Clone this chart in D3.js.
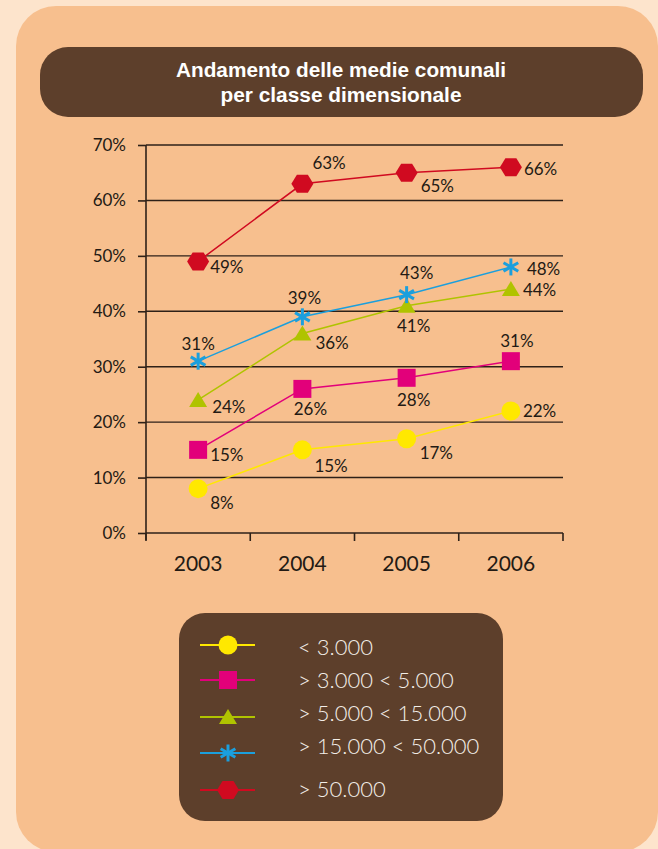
<!DOCTYPE html>
<html>
<head>
<meta charset="utf-8">
<script src="https://cdn.jsdelivr.net/npm/d3@7/dist/d3.min.js"></script>
<style>
  html, body { margin: 0; padding: 0; background: #fde4cc; }
  svg { display: block; }
</style>
</head>
<body>
<svg id="chart" width="658" height="849"></svg>
<script>
// Years on the x axis
const years = ["2003", "2004", "2005", "2006"];
// Population classes (legend labels)
const classes = ["< 3.000", "> 3.000 < 5.000", "> 5.000 < 15.000", "> 15.000 < 50.000", "> 50.000"];
// Percentages per class, one value per year
const lt3000 = [8, 15, 17, 22];
const from3000to5000 = [15, 26, 28, 31];
const from5000to15000 = [24, 36, 41, 44];
const from15000to50000 = [31, 39, 43, 48];
const gt50000 = [49, 63, 65, 66];
// Y axis ticks
const yTicks = [0, 10, 20, 30, 40, 50, 60, 70];

const titleLines = ["Andamento delle medie comunali", "per classe dimensionale"];

const seriesValues = [lt3000, from3000to5000, from5000to15000, from15000to50000, gt50000];
const colors = ["#ffe800", "#e2007a", "#b0c300", "#1b9fdd", "#d00a20"];
const shapes = ["circle", "square", "triangle", "star", "hexagon"];
// label offsets (dx, dy, anchor) for each series/year
const labelPos = [
  [[12, 14, "start"], [12, 16, "start"], [13, 14, "start"], [12, 0, "start"]],
  [[12, 5, "start"], [8, 20, "middle"], [7, 22, "middle"], [6, -20, "middle"]],
  [[14, 7, "start"], [13, 10, "start"], [7, 20, "middle"], [12, 1, "start"]],
  [[0, -17, "middle"], [2, -19, "middle"], [10, -22, "middle"], [16, 2, "start"]],
  [[12, 6, "start"], [10, -21, "start"], [14, 13, "start"], [13, 2, "start"]]
];

const svg = d3.select("#chart");
const labelFont = "Lato, 'Open Sans', sans-serif";
const brown = "#5d3f2b";

// panel backgrounds
svg.append("rect").attr("x", 16).attr("y", 6).attr("width", 642).attr("height", 846)
  .attr("rx", 40).attr("fill", "#f7bf8e");

svg.append("rect").attr("x", 40).attr("y", 47).attr("width", 603).attr("height", 70)
  .attr("rx", 28).attr("fill", brown);

const titleWidths = [330, 241];
titleLines.forEach((t, i) => {
  svg.append("text")
    .attr("x", 341).attr("y", 77 + i * 25)
    .attr("text-anchor", "middle")
    .attr("font-family", "'Liberation Sans Narrow', 'Liberation Sans', Arial, sans-serif")
    .attr("font-weight", "bold")
    .attr("font-size", 20)
    .attr("fill", "#ffffff")
    .attr("textLength", titleWidths[i])
    .attr("lengthAdjust", "spacingAndGlyphs")
    .text(t);
});

// scales
const x = d3.scaleBand().domain(years).range([146, 563]);
const y = d3.scaleLinear().domain([0, 70]).range([533, 145]);
const cx = d => x(d) + x.bandwidth() / 2;

// gridlines
svg.append("g").selectAll("line").data(yTicks.slice(1)).join("line")
  .attr("x1", 146).attr("x2", 563)
  .attr("y1", d => y(d)).attr("y2", d => y(d))
  .attr("stroke", "#2e2118").attr("stroke-width", 1.4);

// y axis
const yAxis = svg.append("g").attr("transform", "translate(146,0)")
  .call(d3.axisLeft(y).tickValues(yTicks).tickFormat(d => d + "%").tickSize(8).tickPadding(12));
yAxis.select(".domain").attr("d", "M0,145V540");
yAxis.selectAll("line, path").attr("stroke", "#2e2118").attr("stroke-width", 1.6);
yAxis.selectAll("text").attr("font-family", labelFont).attr("font-size", 17).attr("fill", "#231a14");

// x axis with ticks on band boundaries
const xg = svg.append("g").attr("transform", "translate(0,533)");
xg.append("line").attr("x1", 146).attr("x2", 563).attr("stroke", "#2e2118").attr("stroke-width", 1.6);
const bounds = years.map(d => x(d)).concat([x(years[years.length - 1]) + x.bandwidth()]);
xg.selectAll("line.tk").data(bounds).join("line").attr("class", "tk")
  .attr("x1", d => d).attr("x2", d => d).attr("y1", 0).attr("y2", 8)
  .attr("stroke", "#2e2118").attr("stroke-width", 1.6);
xg.selectAll("text").data(years).join("text")
  .attr("x", d => cx(d)).attr("y", 38)
  .attr("text-anchor", "middle")
  .attr("font-family", labelFont).attr("font-size", 21).attr("fill", "#231a14")
  .text(d => d);

// marker drawing
function marker(g, shape, color) {
  if (shape === "circle") {
    g.append("circle").attr("r", 9.5).attr("fill", color);
  } else if (shape === "square") {
    g.append("rect").attr("x", -9).attr("y", -9).attr("width", 18).attr("height", 18).attr("fill", color);
  } else if (shape === "triangle") {
    g.append("path").attr("d", "M0,-8L9,7L-9,7Z").attr("fill", color);
  } else if (shape === "hexagon") {
    const w = 11, h = 9;
    const pts = [[w, 0], [w / 2, h], [-w / 2, h], [-w, 0], [-w / 2, -h], [w / 2, -h]];
    g.append("path").attr("d", "M" + pts.map(p => p.join(",")).join("L") + "Z").attr("fill", color);
  } else if (shape === "star") {
    const r = 8.5;
    [90, 30, 150].forEach(a => {
      const rad = a * Math.PI / 180;
      g.append("line")
        .attr("x1", -r * Math.cos(rad)).attr("y1", -r * Math.sin(rad))
        .attr("x2", r * Math.cos(rad)).attr("y2", r * Math.sin(rad))
        .attr("stroke", color).attr("stroke-width", 3);
    });
  }
}

const line = d3.line().x((d, i) => cx(years[i])).y(d => y(d));

seriesValues.forEach((vals, si) => {
  const g = svg.append("g");
  g.append("path").datum(vals).attr("d", line)
    .attr("fill", "none").attr("stroke", colors[si]).attr("stroke-width", 1.5);
  vals.forEach((v, i) => {
    const m = g.append("g").attr("transform", `translate(${cx(years[i])},${y(v)})`);
    marker(m, shapes[si], colors[si]);
    const lp = labelPos[si][i];
    g.append("text")
      .attr("x", cx(years[i]) + lp[0]).attr("y", y(v) + lp[1])
      .attr("dy", "0.35em")
      .attr("text-anchor", lp[2])
      .attr("font-family", labelFont).attr("font-size", 17).attr("fill", "#231a14")
      .text(v + "%");
  });
});

// legend
svg.append("rect").attr("x", 179).attr("y", 613).attr("width", 324).attr("height", 208)
  .attr("rx", 26).attr("fill", brown);
const legendY = [645, 680, 717, 753, 790];
const legendTextY = [647, 680, 713, 746, 789];
classes.forEach((c, i) => {
  const g = svg.append("g");
  g.append("line").attr("x1", 200).attr("x2", 255).attr("y1", legendY[i]).attr("y2", legendY[i])
    .attr("stroke", colors[i]).attr("stroke-width", 2);
  const m = g.append("g").attr("transform", `translate(228,${legendY[i]})`);
  marker(m, shapes[i], colors[i]);
  g.append("text").attr("x", 298).attr("y", legendTextY[i]).attr("dy", "0.35em")
    .attr("font-family", labelFont).attr("font-size", 22).attr("font-weight", 300).attr("fill", "#f3eee8")
    .text(c);
});
</script>
</body>
</html>
